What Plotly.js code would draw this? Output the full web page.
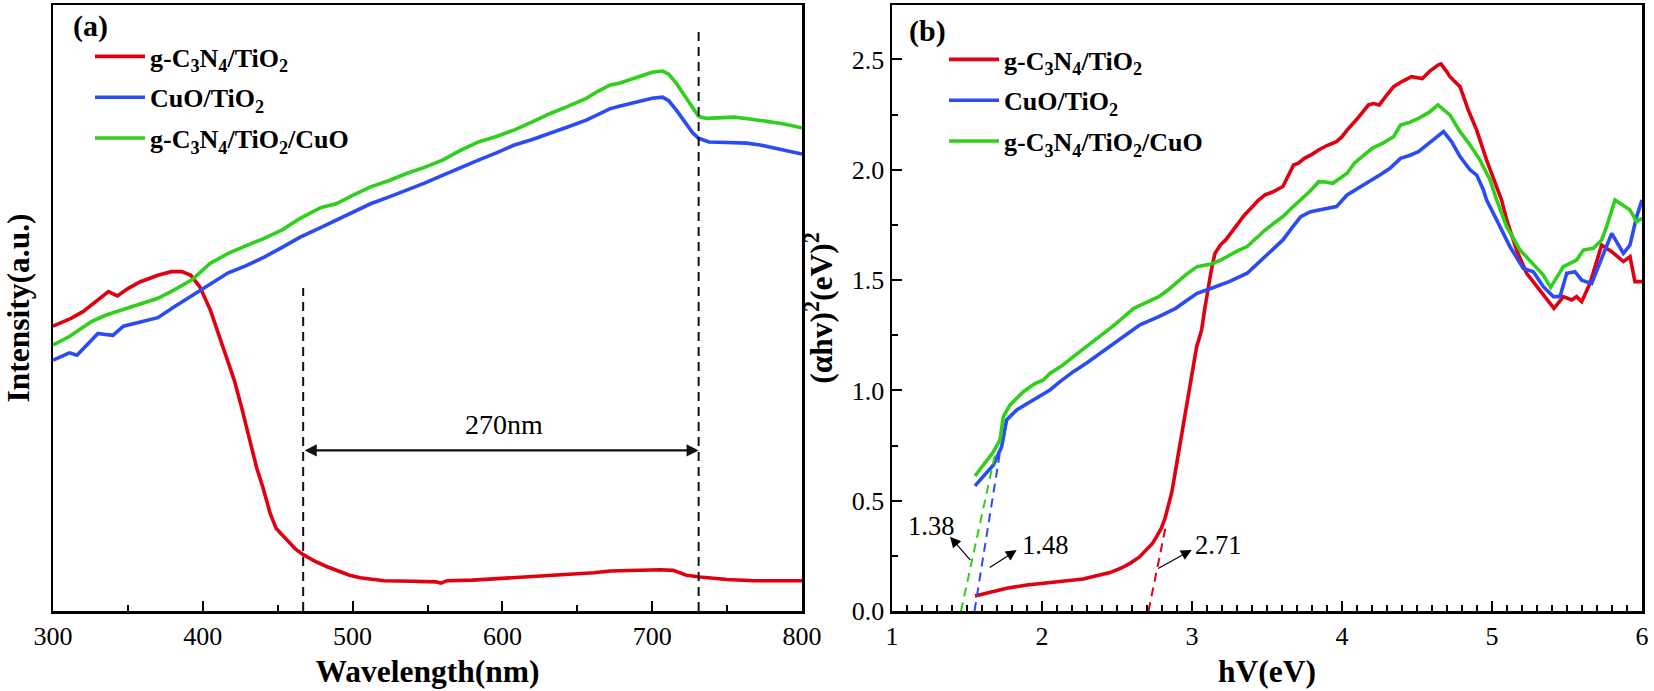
<!DOCTYPE html>
<html>
<head>
<meta charset="utf-8">
<script src="https://cdn.plot.ly/plotly-3.0.1.min.js"></script>
<style>html,body{margin:0;padding:0;background:#fff;}#chart{width:1654px;height:691px;}</style>
</head>
<body>
<div id="chart"></div>
<script>
// ---------- Panel (a): UV-vis absorbance (a.u., % of plot height) ----------
const seriesNames = ['g-C<sub>3</sub>N<sub>4</sub>/TiO<sub>2</sub>', 'CuO/TiO<sub>2</sub>', 'g-C<sub>3</sub>N<sub>4</sub>/TiO<sub>2</sub>/CuO'];
const seriesColors = ['#E0000F', '#2B4BF5', '#2FD01C'];

const redA_nm = [300,312,320,327,337,343,350,358,365,370,379,386,392,398,405,412,421,426,431,436,440,445,449,456,462,467,475,483,490,498,505,510,521,540,556,559,563,580,594,610,627,645,661,672,683,695,705,714,723,732,740,750,768,785,800];
const redA_val = [47.0,48.3,49.4,50.8,52.7,52.0,53.2,54.3,54.9,55.4,56.0,56.0,55.4,53.5,49.7,44.7,38.1,33.5,28.5,23.6,20.5,16.1,13.6,11.7,10.2,9.3,8.2,7.3,6.6,5.9,5.5,5.3,5.0,4.9,4.8,4.6,5.0,5.1,5.3,5.5,5.8,6.0,6.3,6.6,6.7,6.8,6.8,6.7,5.9,5.6,5.4,5.2,5.0,5.0,5.0];

const blueA_nm = [300,306,311,316,323,330,336,340,347,358,370,381,393,405,417,429,441,453,465,479,489,500,512,524,536,548,560,572,584,596,608,620,632,644,656,664,672,678,686,693,700,707,711,716,722,727,731,738,750,763,772,780,790,800];
const blueA_val = [41.4,42.0,42.6,42.2,44.0,45.8,45.6,45.5,47.0,47.6,48.4,50.2,52.1,53.9,55.8,57.0,58.4,60.0,61.7,63.3,64.5,65.8,67.2,68.3,69.4,70.6,71.9,73.2,74.4,75.6,76.9,77.8,78.8,79.9,81.0,82.0,82.9,83.3,83.8,84.3,84.6,84.8,84.2,82.7,80.5,78.9,78.0,77.4,77.3,77.2,76.9,76.5,76.0,75.4];

const greenA_nm = [300,311,318,326,335,346,358,370,381,393,405,417,429,441,453,465,479,489,500,512,524,536,548,560,572,584,596,608,620,632,644,656,664,672,678,686,693,700,707,711,716,722,728,731,736,745,755,765,775,785,793,800];
const greenA_val = [43.9,45.3,46.5,47.8,48.8,49.7,50.6,51.6,53.0,54.7,57.4,59.0,60.3,61.5,62.9,64.8,66.6,67.2,68.6,70.0,71.0,72.2,73.2,74.4,76.0,77.4,78.3,79.4,80.7,82.1,83.3,84.6,85.8,86.8,87.1,87.8,88.4,88.9,89.1,88.6,87.1,84.8,82.7,81.6,81.3,81.4,81.5,81.2,80.9,80.5,80.1,79.7];

const edgeNm = [467, 731];          // dashed absorption-edge markers
const edgeTop = [53.3, 95.6];       // top of each dashed marker
const spanLabel = '270nm';
const spanLevel = 26.5;
const spanLabelPos = [601, 30.8];

// ---------- Panel (b): Tauc plot ----------
const redB_eV = [1.553,1.65,1.764,1.9,2.05,2.2,2.275,2.35,2.453,2.53,2.587,2.65,2.698,2.735,2.764,2.795,2.82,2.843,2.864,2.881,2.898,2.915,2.931,2.948,2.964,2.98,2.998,3.015,3.031,3.045,3.064,3.085,3.105,3.13,3.153,3.19,3.225,3.265,3.308,3.35,3.392,3.44,3.487,3.54,3.606,3.64,3.677,3.71,3.749,3.8,3.844,3.9,3.963,4.0,4.034,4.1,4.177,4.21,4.249,4.3,4.344,4.4,4.463,4.535,4.59,4.64,4.66,4.698,4.72,4.787,4.842,4.898,4.964,5.031,5.064,5.098,5.164,5.231,5.298,5.364,5.413,5.476,5.531,5.564,5.598,5.653,5.731,5.798,5.876,5.92,5.953,6.0];
const redB_val = [0.068,0.085,0.103,0.118,0.128,0.14,0.145,0.158,0.174,0.195,0.216,0.245,0.277,0.305,0.337,0.375,0.42,0.475,0.534,0.60,0.669,0.73,0.79,0.86,0.926,1.0,1.077,1.14,1.198,1.229,1.274,1.37,1.455,1.55,1.621,1.66,1.682,1.72,1.758,1.795,1.825,1.86,1.886,1.90,1.924,1.97,2.022,2.03,2.052,2.07,2.09,2.11,2.127,2.15,2.18,2.23,2.294,2.30,2.294,2.34,2.377,2.40,2.422,2.414,2.45,2.475,2.48,2.445,2.422,2.376,2.271,2.18,2.044,1.923,1.863,1.773,1.636,1.531,1.47,1.41,1.372,1.425,1.41,1.425,1.402,1.485,1.659,1.629,1.584,1.606,1.493,1.493];

const blueB_eV = [1.553,1.609,1.676,1.731,1.764,1.831,1.9,1.964,2.053,2.12,2.209,2.3,2.387,2.45,2.514,2.58,2.653,2.779,2.891,2.96,3.034,3.129,3.248,3.368,3.43,3.487,3.55,3.606,3.67,3.725,3.79,3.844,3.963,4.034,4.12,4.201,4.26,4.32,4.39,4.45,4.51,4.57,4.63,4.677,4.731,4.787,4.853,4.898,4.942,4.964,5.031,5.12,5.209,5.276,5.342,5.409,5.453,5.498,5.553,5.598,5.664,5.742,5.798,5.876,5.92,5.964,6.0];
const blueB_val = [0.567,0.609,0.662,0.745,0.866,0.911,0.94,0.964,1.002,1.04,1.085,1.125,1.168,1.20,1.229,1.26,1.297,1.334,1.372,1.405,1.44,1.463,1.493,1.531,1.57,1.606,1.645,1.682,1.74,1.788,1.81,1.818,1.833,1.886,1.92,1.954,1.98,2.007,2.052,2.065,2.082,2.115,2.15,2.173,2.127,2.06,2.0,1.976,1.91,1.863,1.773,1.651,1.553,1.538,1.47,1.425,1.425,1.531,1.538,1.5,1.485,1.621,1.712,1.621,1.659,1.787,1.863];

const greenB_eV = [1.553,1.609,1.676,1.72,1.742,1.787,1.876,1.95,2.009,2.053,2.13,2.209,2.3,2.35,2.41,2.469,2.54,2.612,2.7,2.779,2.84,2.891,2.96,3.034,3.129,3.19,3.248,3.31,3.368,3.43,3.487,3.55,3.606,3.67,3.725,3.79,3.844,3.89,3.939,4.034,4.082,4.14,4.201,4.27,4.344,4.39,4.45,4.51,4.58,4.64,4.72,4.787,4.853,4.92,4.987,5.031,5.098,5.187,5.276,5.342,5.391,5.476,5.564,5.609,5.676,5.731,5.764,5.82,5.853,5.92,5.964,6.0];
const greenB_val = [0.612,0.662,0.722,0.775,0.881,0.934,0.994,1.03,1.047,1.077,1.11,1.153,1.20,1.229,1.26,1.289,1.33,1.372,1.40,1.425,1.455,1.486,1.525,1.561,1.573,1.59,1.614,1.635,1.652,1.69,1.727,1.76,1.788,1.83,1.863,1.905,1.946,1.945,1.939,1.984,2.03,2.065,2.097,2.12,2.15,2.203,2.215,2.233,2.26,2.294,2.248,2.173,2.113,2.044,1.954,1.863,1.742,1.636,1.568,1.523,1.467,1.561,1.591,1.636,1.644,1.682,1.742,1.863,1.848,1.818,1.765,1.78];

// Tangent (extrapolation) lines: [x0, x1], [y0, y1]
const tanRed_eV = [2.71, 2.83],   tanRed_val = [0, 0.40];
const tanBlue_eV = [1.55, 1.72],  tanBlue_val = [0, 0.72];
const tanGreen_eV = [1.46, 1.69], tanGreen_val = [0, 0.72];

// Band-gap callouts: label, text position, arrow tail, arrow head
const gapLabels = ['1.38', '1.48', '2.71'];
const gapTextX = [1.262, 2.02, 3.17], gapTextY = [0.385, 0.299, 0.297];
const gapTailX = [1.531, 1.642, 2.764], gapTailY = [0.224, 0.193, 0.189];
const gapHeadX = [1.387, 1.831, 2.998], gapHeadY = [0.337, 0.276, 0.277];

// ---------- Build ----------
const W = 1654, H = 691;
const SERIF = 'Liberation Serif, Times New Roman, serif';

function line(x, y, color, xa, ya, name, legend, group) {
  return {x: x, y: y, type: 'scatter', mode: 'lines', name: name, xaxis: xa, yaxis: ya,
          line: {color: color, width: 3.6}, legend: legend, legendgroup: group, showlegend: true};
}
function dashed(x, y, color, xa, ya) {
  return {x: x, y: y, type: 'scatter', mode: 'lines', xaxis: xa, yaxis: ya, showlegend: false,
          hoverinfo: 'skip', line: {color: color, width: 2, dash: '9px,6px'}};
}

const traces = [
  line(redA_nm, redA_val, seriesColors[0], 'x', 'y', seriesNames[0], 'legend', 'a1'),
  line(blueA_nm, blueA_val, seriesColors[1], 'x', 'y', seriesNames[1], 'legend', 'a2'),
  line(greenA_nm, greenA_val, seriesColors[2], 'x', 'y', seriesNames[2], 'legend', 'a3'),
  dashed([edgeNm[0], edgeNm[0]], [0, edgeTop[0]], '#111', 'x', 'y'),
  dashed([edgeNm[1], edgeNm[1]], [0, edgeTop[1]], '#111', 'x', 'y'),
  line(redB_eV, redB_val, seriesColors[0], 'x2', 'y2', seriesNames[0], 'legend2', 'b1'),
  line(blueB_eV, blueB_val, seriesColors[1], 'x2', 'y2', seriesNames[1], 'legend2', 'b2'),
  line(greenB_eV, greenB_val, seriesColors[2], 'x2', 'y2', seriesNames[2], 'legend2', 'b3'),
  dashed(tanRed_eV, tanRed_val, seriesColors[0], 'x2', 'y2'),
  dashed(tanBlue_eV, tanBlue_val, seriesColors[1], 'x2', 'y2'),
  dashed(tanGreen_eV, tanGreen_val, seriesColors[2], 'x2', 'y2')
];

const axisCommon = {
  showline: true, mirror: true, linecolor: '#000', linewidth: 2.5,
  ticks: 'inside', ticklen: 10, tickwidth: 2, tickcolor: '#000',
  showgrid: false, zeroline: false,
  tickfont: {family: SERIF, size: 26, color: '#000'}
};
const yDom = [1 - 611 / H, 1 - 5 / H];
const titleFont = {family: SERIF, size: 31.5, color: '#000'};

const annotations = [
  {xref: 'paper', yref: 'paper', x: 71 / W, y: 1 - 26 / H, xanchor: 'left', yanchor: 'middle', showarrow: false,
   text: '<b>(a)</b>', font: {family: SERIF, size: 30, color: '#000'}},
  {xref: 'paper', yref: 'paper', x: 907 / W, y: 1 - 31 / H, xanchor: 'left', yanchor: 'middle', showarrow: false,
   text: '<b>(b)</b>', font: {family: SERIF, size: 30, color: '#000'}},
  {xref: 'x', yref: 'y', x: edgeNm[1], y: spanLevel, axref: 'x', ayref: 'y', ax: edgeNm[0], ay: spanLevel,
   text: '', showarrow: true, arrowside: 'end+start', arrowhead: 2, arrowsize: 1.1, arrowwidth: 2.2,
   arrowcolor: '#111', standoff: 0, startstandoff: 0},
  {xref: 'x', yref: 'y', x: spanLabelPos[0], y: spanLabelPos[1], showarrow: false, text: spanLabel,
   font: {family: SERIF, size: 28, color: '#000'}}
];
for (let i = 0; i < gapLabels.length; i++) {
  annotations.push({xref: 'x2', yref: 'y2', x: gapHeadX[i], y: gapHeadY[i], axref: 'x2', ayref: 'y2',
    ax: gapTailX[i], ay: gapTailY[i], text: '', showarrow: true, arrowhead: 2, arrowsize: 1.8,
    arrowwidth: 1.2, arrowcolor: '#000', standoff: 0});
  annotations.push({xref: 'x2', yref: 'y2', x: gapTextX[i], y: gapTextY[i], showarrow: false,
    text: gapLabels[i], font: {family: SERIF, size: 26.5, color: '#000'}});
}

const legendCommon = {
  xanchor: 'left', yanchor: 'top', bgcolor: 'rgba(0,0,0,0)', borderwidth: 0,
  font: {family: SERIF, size: 26, color: '#000', weight: 'bold'}, tracegroupgap: 4, itemwidth: 50
};

const layout = {
  width: W, height: H, margin: {l: 0, r: 0, t: 0, b: 0},
  paper_bgcolor: '#fff', plot_bgcolor: '#fff', showlegend: true,
  xaxis: Object.assign({}, axisCommon, {domain: [53 / W, 802 / W], range: [300, 800], dtick: 100, tick0: 300,
    minor: {ticks: 'inside', dtick: 50, ticklen: 6, tickwidth: 2, tickcolor: '#000'},
    title: {text: '<b>Wavelength(nm)</b>', font: titleFont, standoff: 10}}),
  yaxis: Object.assign({}, axisCommon, {domain: yDom, range: [0, 100], ticks: '', showticklabels: false,
    title: {text: '<b>Intensity(a.u.)</b>', font: titleFont, standoff: 12}}),
  xaxis2: Object.assign({}, axisCommon, {domain: [892 / W, 1642 / W], range: [1, 6], dtick: 1, anchor: 'y2',
    minor: {ticks: 'inside', dtick: 0.1, ticklen: 6, tickwidth: 2, tickcolor: '#000'},
    title: {text: '<b>hV(eV)</b>', font: titleFont, standoff: 10}}),
  yaxis2: Object.assign({}, axisCommon, {domain: yDom, range: [0, 2.747], dtick: 0.5, tickformat: '.1f', anchor: 'x2',
    minor: {ticks: 'inside', dtick: 0.25, ticklen: 6, tickwidth: 2, tickcolor: '#000'},
    title: {text: '<b>(αhv)<sup>2</sup>(eV)<sup>2</sup></b>', font: titleFont, standoff: 10}}),
  legend: Object.assign({}, legendCommon, {x: 90 / W, y: 1 - 33 / H}),
  legend2: Object.assign({}, legendCommon, {x: 944 / W, y: 1 - 36 / H}),
  annotations: annotations
};

Plotly.newPlot('chart', traces, layout, {staticPlot: true, displayModeBar: false});
</script>
</body>
</html>
